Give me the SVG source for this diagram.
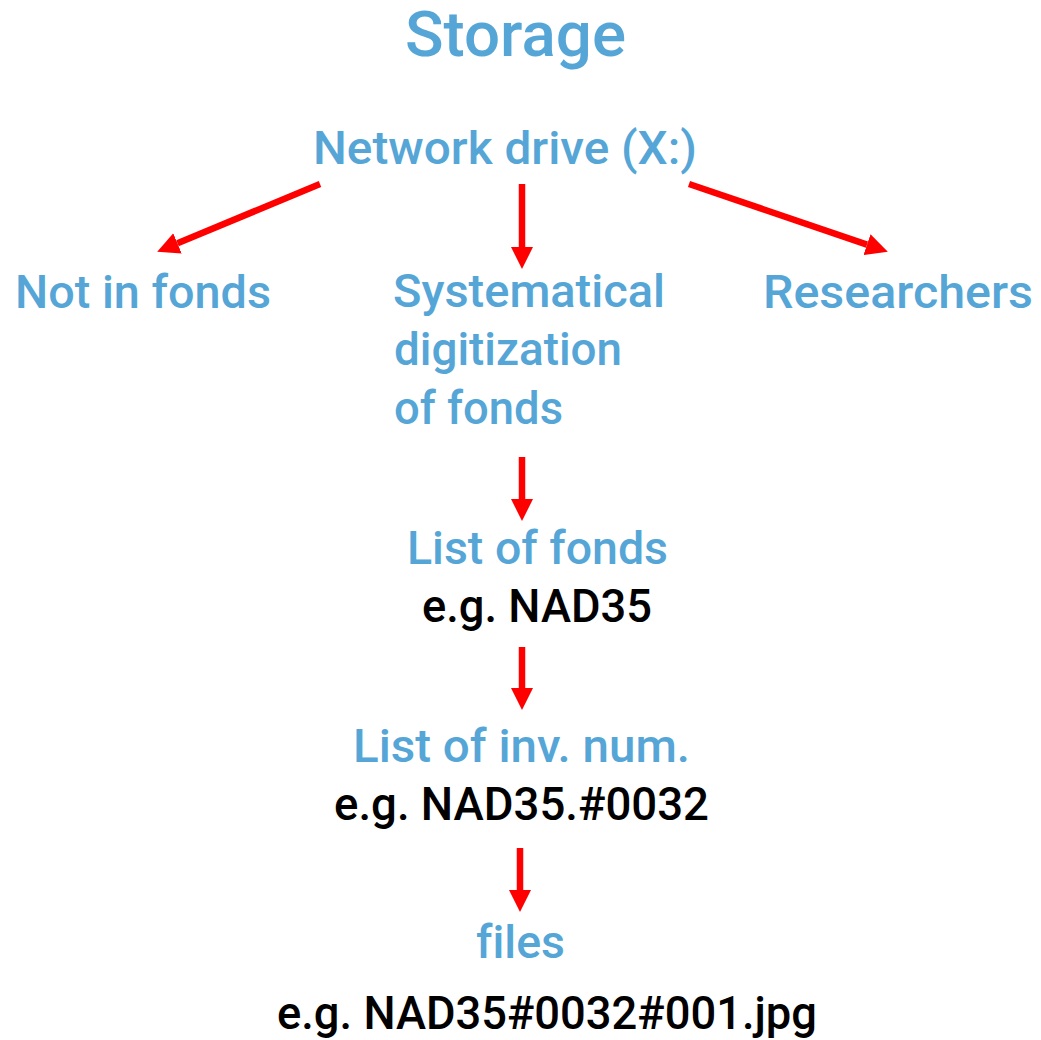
<svg xmlns="http://www.w3.org/2000/svg" width="1041" height="1040" viewBox="0 0 1041 1040">
<defs>
<style>
text{font-family:Roboto,"DejaVu Sans",sans-serif;font-size:46px;font-weight:500;font-variant-ligatures:none;}
.b{fill:#55A6D7;}
.k{fill:#000000;}
.c{stroke:#FF0000;stroke-width:6.5;fill:none;}
</style>
<marker id="ah" markerUnits="userSpaceOnUse" markerWidth="22" markerHeight="22" refX="0" refY="10" orient="auto" viewBox="0 0 20 20">
<path d="M0,0 L20,10 L0,20 Z" fill="#FF0000"/>
</marker>
</defs>
<rect width="1041" height="1040" fill="#FFFFFF"/>
<g id="connectors">
<line class="c" x1="320" y1="184" x2="177.5" y2="243.3" marker-end="url(#ah)"/>
<line class="c" x1="522" y1="184" x2="522" y2="247" marker-end="url(#ah)"/>
<line class="c" x1="689" y1="184" x2="867" y2="244.6" marker-end="url(#ah)"/>
<line class="c" x1="522" y1="457" x2="522" y2="499" marker-end="url(#ah)"/>
<line class="c" x1="522" y1="647" x2="522" y2="688" marker-end="url(#ah)"/>
<line class="c" x1="520" y1="848" x2="520" y2="890" marker-end="url(#ah)"/>
</g>
<g id="title"><text class="b" x="405" y="56" textLength="221" lengthAdjust="spacingAndGlyphs" style="font-size:63px">Storage</text></g>
<g id="network"><text class="b" x="313" y="164" textLength="384" lengthAdjust="spacingAndGlyphs">Network drive (X:)</text></g>
<g id="notinfonds"><text class="b" x="15" y="308" textLength="256" lengthAdjust="spacingAndGlyphs">Not in fonds</text></g>
<g id="systematical">
<text class="b" x="393" y="307" textLength="272" lengthAdjust="spacingAndGlyphs">Systematical</text>
<text class="b" x="394" y="365" textLength="228" lengthAdjust="spacingAndGlyphs">digitization</text>
<text class="b" x="394" y="424" textLength="169" lengthAdjust="spacingAndGlyphs">of fonds</text>
</g>
<g id="researchers"><text class="b" x="763" y="308" textLength="270" lengthAdjust="spacingAndGlyphs">Researchers</text></g>
<g id="listfonds">
<text class="b" x="407" y="564" textLength="261" lengthAdjust="spacingAndGlyphs">List of fonds</text>
<text class="k" x="422" y="622" textLength="230" lengthAdjust="spacingAndGlyphs">e.g. NAD35</text>
</g>
<g id="listinv">
<text class="b" x="353" y="762" textLength="337" lengthAdjust="spacingAndGlyphs">List of inv. num.</text>
<text class="k" x="334" y="820" textLength="375" lengthAdjust="spacingAndGlyphs">e.g. NAD35.#0032</text>
</g>
<g id="files">
<text class="b" x="476" y="958" textLength="89" lengthAdjust="spacingAndGlyphs">files</text>
<text class="k" x="277" y="1029" textLength="540" lengthAdjust="spacingAndGlyphs">e.g. NAD35#0032#001.jpg</text>
</g>
</svg>
